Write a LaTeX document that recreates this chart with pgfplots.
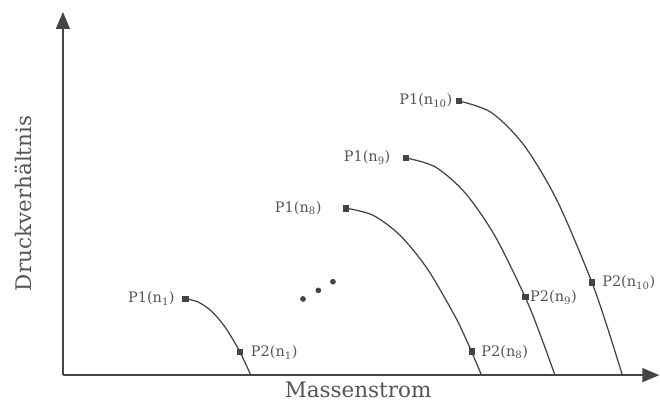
\documentclass[border=0pt]{standalone}
\usepackage{fontspec}
\setmainfont{DejaVu Serif}
\usepackage{pgfplots}
\pgfplotsset{compat=1.18}
\usetikzlibrary{arrows.meta}
\definecolor{ink}{RGB}{68,68,68}
\definecolor{txt}{RGB}{85,85,85}

\begin{document}
\begin{tikzpicture}[
  lab/.style={inner sep=0pt, text=txt, font=\fontsize{14.5}{17}\selectfont},
]
\begin{axis}[
  x=1pt, y=1pt,
  xmin=63, xmax=660, ymin=34.5, ymax=398,
  axis lines=left,
  axis line style={ink, line width=1.4pt, -{Triangle[length=17pt,width=14pt]}},
  xtick=\empty, ytick=\empty,
  clip=false,
  xlabel={Massenstrom}, ylabel={Druckverhältnis},
  label style={font=\fontsize{21.5}{25}\selectfont, text=txt},
  xlabel style={at={(axis description cs:0.495,-0.040)}, anchor=center},
  ylabel style={at={(axis description cs:-0.067,0.473)}, anchor=center},
  pt/.style={only marks, mark=square*, mark size=2.8pt, ink, mark options={ink}},
  curve/.style={ink, line width=1.25pt, smooth},
]
% fixed page frame
\path (axis cs:0,0) rectangle (axis cs:660,410);

% characteristic lines for the speeds n1, n8, n9, n10
\addplot[curve] coordinates {
  (185.5,111) (198.6,107.6) (211.7,98.5) (224.8,83.3) (237.9,62) (244.45,49) (251,34.5)};
\addplot[curve] coordinates {
  (346,201.7) (373.2,194.6) (400.4,174.5) (427.6,141.2) (454.8,94.7) (468.4,66.3) (482,34.5)};
\addplot[curve] coordinates {
  (406,252) (435.9,242.8) (465.8,216.7) (495.7,173.4) (525.6,112.8) (540.55,75.8) (555.5,34.5)};
\addplot[curve] coordinates {
  (459,309) (491.8,297.4) (524.6,264.5) (557.4,209.8) (590.2,133.3) (606.6,86.7) (623,34.5)};

% operating points P1 and P2
\addplot[pt] coordinates {(185.5,111) (346,201.7) (406,252) (459,309)};
\addplot[pt] coordinates {(240,58.1) (472,58.2) (525.6,112.8) (592.3,127.7)};

% ellipsis between n1 and n8
\addplot[only marks, mark=*, mark size=2.6pt, ink, mark options={ink}] coordinates {
  (303.3,110.7) (318.7,119.3) (333.3,128)};

% point labels
\node[lab, anchor=base east, xshift=-10.5pt, yshift=-4pt] at (axis cs:185.5,111) {P1(n\textsubscript{1})};
\node[lab, anchor=base east, xshift=-24pt, yshift=-4pt] at (axis cs:346,201.7) {P1(n\textsubscript{8})};
\node[lab, anchor=base east, xshift=-15pt, yshift=-4pt] at (axis cs:406,252) {P1(n\textsubscript{9})};
\node[lab, anchor=base east, xshift=-6pt, yshift=-4pt] at (axis cs:459,309) {P1(n\textsubscript{10})};
\node[lab, anchor=base west, xshift=11pt, yshift=-5pt] at (axis cs:240,58.1) {P2(n\textsubscript{1})};
\node[lab, anchor=base west, xshift=9.7pt, yshift=-5pt] at (axis cs:472,58.2) {P2(n\textsubscript{8})};
\node[lab, anchor=base west, xshift=5pt, yshift=-5pt] at (axis cs:525.6,112.8) {P2(n\textsubscript{9})};
\node[lab, anchor=base west, xshift=10.4pt, yshift=-5pt] at (axis cs:592.3,127.7) {P2(n\textsubscript{10})};
\end{axis}
\end{tikzpicture}
\end{document}
